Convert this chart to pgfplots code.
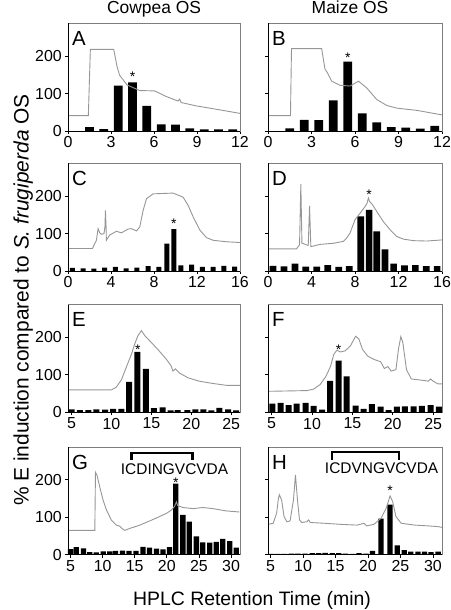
\documentclass[border=0pt]{standalone}
\usepackage{fontspec}
\setmainfont{Liberation Sans}
\usepackage{pgfplots}
\pgfplotsset{compat=1.18}
\definecolor{tracegray}{RGB}{150,150,150}
\definecolor{boxgray}{RGB}{125,125,125}
\pgfplotsset{
 panel/.style={scale only axis, clip=false, height=107.5bp, ymin=0, ymax=287, ytick={0,100,200},
   tick align=outside, xtick pos=bottom, ytick pos=left, major tick length=3bp,
   axis line style={draw=boxgray, line width=0.8bp}, tick style={black, line width=0.7bp},
   /pgf/number format/assume math mode=true,
   tick label style={font=\fontsize{16}{16}\selectfont},
   xticklabel style={inner sep=0pt, yshift=-2.5bp},
   yticklabel style={inner sep=0pt, xshift=-3bp},
   anchor=south west},
 leftp/.style={panel, width=172bp},
 rightp/.style={panel, width=174bp, yticklabels={,,}},
 bars/.style={ybar, bar shift=0pt, fill=black, draw=none},
 trace/.style={sharp plot, no marks, draw=tracegray, line width=0.9bp},
}
\newcommand{\frameLB}{\draw[black, line width=0.8bp] (rel axis cs:0,1) -- (rel axis cs:0,0) -- (rel axis cs:1,0);}
\newcommand{\panelletter}[1]{\node[anchor=base west, inner sep=0pt, xshift=4bp, yshift=-22bp, font=\fontsize{20.5}{20.5}\selectfont] at (rel axis cs:0,1) {#1};}
\newcommand{\astk}[2]{\node[inner sep=0pt, font=\fontsize{14}{14}\selectfont] at (axis cs:#1,#2) {*};}
\begin{document}
\begin{tikzpicture}
\useasboundingbox (0,0) rectangle (451bp,610bp);
% ---------- A ----------
\begin{axis}[leftp, at={(68bp,479bp)}, xmin=0, xmax=12, xtick={0,3,6,9,12}]
\addplot[bars, bar width=8.7bp] coordinates {(1.5,10)(2.5,5)(3.5,121)(4.5,130)(5.5,67)(6.5,18)(7.5,17)(8.5,7)(9.5,4)(10.5,4)(11.5,4)};
\addplot[trace] coordinates {(0,41)(1.42,41)(1.56,218)(3.19,218)(3.42,172)(3.6,149)(4.12,123)(5.0,108)(6.05,107)(6.86,92)(7.67,80)(7.79,85)(7.9,76)(8.95,67)(10.35,58)(12,47)};
\frameLB \panelletter{A} \astk{4.5}{146}
\end{axis}
% ---------- B ----------
\begin{axis}[rightp, at={(268bp,479bp)}, xmin=0, xmax=12, xtick={0,3,6,9,12}]
\addplot[bars, bar width=8.7bp] coordinates {(1.5,7)(2.5,30)(3.5,29)(4.5,82)(5.5,185)(6.5,47)(7.5,23)(8.5,10)(9.5,9)(10.5,6)(11.5,14)};
\addplot[trace] coordinates {(0,41)(1.55,41)(1.62,220)(3.7,220)(3.93,165)(4.09,156)(4.39,133)(4.97,122)(5.66,120)(6.24,133)(6.81,115)(7.5,84)(8.2,68)(8.89,61)(10.28,55)(12,43)};
\frameLB \panelletter{B} \astk{5.5}{197}
\end{axis}
% ---------- C ----------
\begin{axis}[leftp, at={(68bp,339bp)}, xmin=0, xmax=16, xtick={0,4,8,12,16}]
\addplot[bars, bar width=5bp] coordinates {(0.4,8)(1.4,7)(2.4,6)(3.4,9)(4.4,11)(5.4,7)(6.4,9)(7.45,13)(8.45,11)(9.2,73)(9.85,112)(10.5,15)(11.5,17)(12.5,11)(13.5,11)(14.5,14)(15.5,12)};
\addplot[trace] coordinates {(0,60)(2.27,60)(2.64,82)(2.8,113)(2.95,102)(3.1,98)(3.35,100)(3.44,120)(3.48,162)(3.54,120)(3.57,82)(3.88,96)(4.5,106)(4.97,102)(5.59,112)(5.9,113)(6.37,107)(6.68,118)(6.99,162)(7.3,193)(7.92,206)(9.78,208)(10.71,197)(11.18,175)(11.65,144)(12.27,109)(12.89,89)(13.5,82)(14.75,78)(16,76)};
\frameLB \panelletter{C} \astk{9.85}{127}
\end{axis}
% ---------- D ----------
\begin{axis}[rightp, at={(268bp,339bp)}, xmin=0, xmax=16, xtick={0,4,8,12,16}]
\addplot[bars, bar width=6.7bp] coordinates {(0.46,14)(1.48,12.5)(2.49,20)(3.48,12)(4.49,12)(5.5,16)(6.5,11)(7.48,13)(8.52,146)(9.3,163)(10.0,106)(10.75,58)(11.55,20)(12.55,15)(13.55,16)(14.55,13)(15.55,13)};
\addplot[trace] coordinates {(0,59)(2.62,59)(2.9,70)(3.02,232)(3.12,74)(3.17,74)(3.7,68)(3.82,174)(3.94,65)(4.77,71)(6.0,74)(6.92,79)(7.23,88)(7.54,101)(8.0,137)(8.46,154)(8.92,172)(9.1,180)(9.23,195)(9.35,185)(9.54,180)(10.0,159)(10.6,132)(11.23,110)(11.85,92)(12.46,85)(13.38,81)(14.6,80)(16,83)};
\frameLB \panelletter{D} \astk{9.3}{204}
\end{axis}
% ---------- E ----------
\begin{axis}[leftp, at={(68bp,197.7bp)}, xmin=4.55, xmax=26.1, xtick={5,10,15,20,25}]
\addplot[bars, bar width=6bp] coordinates {(5.0,8)(6.05,6)(7.1,6)(8.1,8)(9.2,7)(10.2,9)(11.25,9)(12.2,81)(13.25,161)(14.3,116)(15.3,11)(16.4,13)(17.4,5)(18.3,6)(19.5,6)(20.5,8)(21.5,8)(22.5,5)(23.5,12)(24.6,8)(25.6,5)};
\addplot[trace] coordinates {(4.55,60)(10,60)(10.6,67)(11.25,87)(11.9,123)(12.5,155)(12.9,182)(13.3,204)(13.75,218)(14.2,204)(15,186)(15.8,168)(16.9,141)(17.5,123)(17.7,110)(18.0,116)(18.5,105)(19.6,92)(21.0,83)(22.7,77)(24.4,72)(26.1,72)};
\frameLB \panelletter{E} \astk{13.3}{168}
\end{axis}
% ---------- F ----------
\begin{axis}[rightp, at={(268bp,197.7bp)}, xmin=4.55, xmax=26.1, xtick={5,10,15,20,25}]
\addplot[bars, bar width=6bp] coordinates {(5.1,23)(6.1,25)(7.1,19)(8.1,23)(9.2,25)(10.2,17)(11.25,7)(12.25,84)(13.3,138)(14.3,96)(15.4,18)(16.4,9)(17.4,22)(18.5,15)(19.5,6)(20.5,15)(21.5,16)(22.6,16)(23.6,17)(24.7,19)(25.7,15)};
\addplot[trace] coordinates {(4.55,56)(9.4,58)(10.2,62)(11.0,74)(11.7,95)(12.3,123)(12.7,155)(13.1,166)(13.5,161)(14.1,164)(14.75,177)(15.4,203)(15.8,196)(16.25,168)(16.9,150)(17.7,141)(18.5,135)(18.96,117)(19.4,122)(19.8,110)(20.4,114)(20.7,168)(21.0,202)(21.25,186)(21.7,114)(22.3,89)(23.5,86)(24.4,83)(24.7,89)(25,83)(25.6,76)(26.1,76)};
\frameLB \panelletter{F} \astk{13.3}{168}
\end{axis}
% ---------- G ----------
\begin{axis}[leftp, at={(68bp,55.3bp)}, xmin=4.6, xmax=31.4, xtick={5,10,15,20,25,30}]
\addplot[bars, bar width=5.3bp] coordinates {(5.0,15)(5.9,20)(7.0,17)(8.0,7)(9.0,6)(10.1,9)(11.1,9)(12.0,10)(13.1,11)(14.1,10)(15.2,10)(16.3,21)(17.3,19)(18.4,16)(19.4,14)(20.4,20)(21.4,190)(22.5,106)(23.5,88)(24.6,49)(25.6,33)(26.7,32)(27.7,34)(28.7,42)(29.8,36)(30.8,19)};
\addplot[trace] coordinates {(4.6,65)(8.78,65)(8.88,220)(9.14,211)(9.56,180)(10.08,145)(10.6,119)(11.37,92)(12.15,79)(12.67,76)(13.0,70)(13.45,65)(14.2,70)(15.8,79)(17.85,94)(19.9,110)(20.7,119)(21.2,129)(21.5,141)(21.7,131)(22.5,126)(24.1,123)(25.6,126)(27.2,123)(29.2,117)(31.3,114)};
\frameLB \panelletter{G} \astk{21.4}{192}
\draw[black, line width=2.3bp] (axis cs:14.5,253) -- (axis cs:14.5,272) -- (axis cs:24,272) -- (axis cs:24,253);
\node[anchor=base, inner sep=0pt, font=\fontsize{15.5}{15.5}\selectfont] at (axis cs:21.2,214) {ICDINGVCVDA};
\end{axis}
% ---------- H ----------
\begin{axis}[rightp, at={(268bp,55.3bp)}, xmin=4.6, xmax=31.4, xtick={5,10,15,20,25,30}]
\addplot[bars, bar width=5.3bp] coordinates {(5.1,2)(6.1,2)(7.1,2)(8.2,3)(9.2,3)(10.3,3)(11.4,4)(12.4,4)(13.4,5)(14.5,4)(15.5,4)(16.5,3)(17.6,2)(18.6,4)(19.7,3)(20.7,10)(22.0,96)(23.4,134)(24.5,25)(25.6,12)(26.6,8)(27.7,8)(28.7,8)(29.7,7)(30.8,8)};
\addplot[trace] coordinates {(4.64,81)(5.4,84)(5.93,111)(6.2,150)(6.35,160)(6.7,146)(7.07,102)(7.5,88)(8.0,90)(8.52,146)(8.83,213)(9.14,146)(9.45,93)(9.8,86)(10.6,88)(10.85,93)(11.1,86)(13.2,84)(15.8,81)(18.35,79)(19.4,84)(19.8,77)(20.9,81)(22.0,97)(22.8,124)(23.4,157)(23.8,142)(24.3,102)(25.1,84)(27.2,79)(29.2,77)(30.8,75)(31.4,73)};
\frameLB \panelletter{H} \astk{23.4}{170}
\draw[black, line width=2.3bp] (axis cs:14.5,253) -- (axis cs:14.5,274) -- (axis cs:24.8,274) -- (axis cs:24.8,253);
\node[anchor=base, inner sep=0pt, font=\fontsize{15.5}{15.5}\selectfont] at (axis cs:22.1,218) {ICDVNGVCVDA};
\end{axis}
% ---------- titles and labels ----------
\node[anchor=base, inner sep=0pt, font=\fontsize{17.5}{17.5}\selectfont] at (154bp,596bp) {Cowpea OS};
\node[anchor=base, inner sep=0pt, font=\fontsize{17.5}{17.5}\selectfont] at (350bp,596bp) {Maize OS};
\node[anchor=base, inner sep=0pt, rotate=90, font=\fontsize{21}{21}\selectfont] at (28.5bp,310bp) {\% E induction compared to \textit{S. frugiperda} OS};
\node[anchor=base, inner sep=0pt, font=\fontsize{19.5}{19.5}\selectfont] at (252bp,5bp) {HPLC Retention Time (min)};
\end{tikzpicture}
\end{document}
